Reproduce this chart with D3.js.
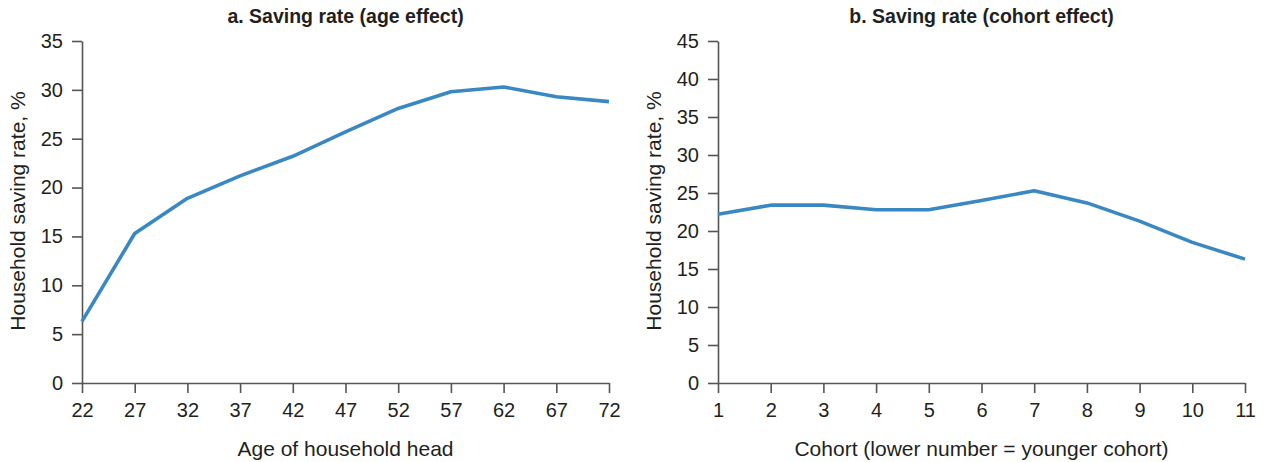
<!DOCTYPE html>
<html><head><meta charset="utf-8">
<script src="https://cdn.jsdelivr.net/npm/d3@7"></script>
<style>body{margin:0;background:#fff}svg{display:block;font-family:"Liberation Sans",Arial,sans-serif}</style>
</head><body><svg id="c" width="1265" height="462"></svg>
<script>
const ages = [22,27,32,37,42,47,52,57,62,67,72];
const ageRates = [6.3,15.3,18.9,21.2,23.2,25.7,28.1,29.8,30.3,29.3,28.8];
const cohorts = [1,2,3,4,5,6,7,8,9,10,11];
const cohortRates = [22.2,23.4,23.4,22.8,22.8,24.0,25.3,23.7,21.3,18.5,16.3];
const leftYTicks = [0,5,10,15,20,25,30,35];
const rightYTicks = [0,5,10,15,20,25,30,35,40,45];

const svg = d3.select("#c");
const plotTop = 41, plotBottom = 383;
const axisColor = "#555", textColor = "#231f20", lineColor = "#3a88c2";

function panel(o){
  const x = d3.scaleLinear().domain(o.xDomain).range([o.x0, o.x1]);
  const y = d3.scaleLinear().domain(o.yDomain).range([plotBottom, plotTop]);
  const g = svg.append("g");
  const ya = g.append("g").attr("transform",`translate(${o.x0},0)`)
    .call(d3.axisLeft(y).tickValues(o.yTicks).tickSize(10).tickPadding(9).tickSizeOuter(0));
  const xa = g.append("g").attr("transform",`translate(0,${plotBottom})`)
    .call(d3.axisBottom(x).tickValues(o.xVals).tickSize(10).tickPadding(10).tickSizeOuter(0).tickFormat(d3.format("d")));
  [ya,xa].forEach(a=>{
    a.selectAll("path,line").attr("stroke",axisColor).attr("stroke-width",1.6);
    a.selectAll("text").attr("fill",textColor).style("font-size","20px").style("font-family","Liberation Sans, Arial, sans-serif");
  });
  g.append("path").datum(o.vals.map((v,i)=>[o.xVals[i],v]))
    .attr("fill","none").attr("stroke",lineColor).attr("stroke-width",3.6)
    .attr("stroke-linejoin","round")
    .attr("d", d3.line().x(d=>x(d[0])).y(d=>y(d[1])));
  g.append("text").attr("x",(o.x0+o.x1)/2).attr("y",23).attr("text-anchor","middle")
    .attr("fill",textColor).style("font-weight","bold").style("font-size","19.5px").text(o.title);
  g.append("text").attr("x",(o.x0+o.x1)/2).attr("y",456).attr("text-anchor","middle")
    .attr("fill",textColor).style("font-size","21px").text(o.xTitle);
  g.append("text").attr("transform",`translate(${o.ytx},${(plotTop+plotBottom)/2-1}) rotate(-90)`)
    .attr("text-anchor","middle").attr("fill",textColor).style("font-size","21px").text("Household saving rate, %");
}
panel({x0:82,x1:609,xDomain:[22,72],yDomain:[0,35],xVals:ages,vals:ageRates,yTicks:leftYTicks,
  title:"a. Saving rate (age effect)",xTitle:"Age of household head",ytx:25});
panel({x0:718,x1:1245,xDomain:[1,11],yDomain:[0,45],xVals:cohorts,vals:cohortRates,yTicks:rightYTicks,
  title:"b. Saving rate (cohort effect)",xTitle:"Cohort (lower number = younger cohort)",ytx:661});
</script></body></html>
